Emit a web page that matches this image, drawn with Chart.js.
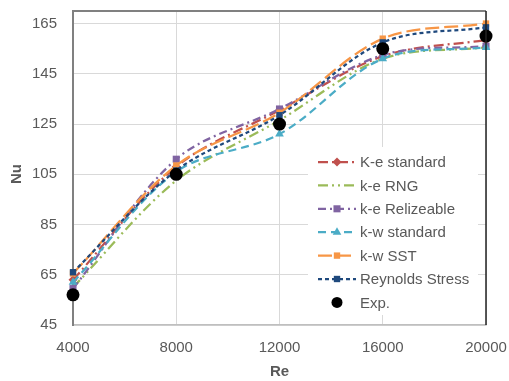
<!DOCTYPE html>
<html><head><meta charset="utf-8">
<script src="https://cdn.jsdelivr.net/npm/chart.js@4/dist/chart.umd.min.js"></script>
<style>html,body{margin:0;padding:0;background:#fff}canvas{display:block}</style>
</head><body>
<canvas id="c" width="509" height="381"></canvas>
<script>
const reValues = [4000, 8000, 12000, 16000, 20000];
const xTickLabels = [4000, 8000, 12000, 16000, 20000];
const yTickLabels = [45, 65, 85, 105, 125, 145, 165];
const seriesNames = ["K-e standard", "k-e RNG", "k-e Relizeable", "k-w standard", "k-w SST", "Reynolds Stress", "Exp."];
const keStandard = [63, 108, 130.5, 152, 158.5];
const keRNG = [60, 102.5, 126.5, 151, 155.5];
const keRelizeable = [59.5, 111, 131, 152.5, 156];
const kwStandard = [62, 106, 121, 151, 155.5];
const kwSST = [65.5, 108.5, 129.5, 159, 165];
const reynoldsStress = [66, 106.5, 128.5, 157.5, 163.5];
const expData = [57, 105, 125, 155, 160];

const FONT = "'Liberation Sans', Arial, sans-serif";
const pts = arr => arr.map((v, i) => ({x: reValues[i], y: v}));

const styles = [
  {color:'#C0504D', dash:[10,4,2,4], point:'rectRot', r:4.5},
  {color:'#9BBB59', dash:[10,4,2,4,2,4], point:false, r:0},
  {color:'#8064A2', dash:[8,4,2,4], point:'rect', r:5},
  {color:'#4BACC6', dash:[8,5], point:'triangle', r:5},
  {color:'#F79646', dash:[14,5], point:'rect', r:4.5},
  {color:'#1F497D', dash:[4,3], point:'rect', r:4.5}
];
const seriesData = [keStandard, keRNG, keRelizeable, kwStandard, kwSST, reynoldsStress];

const datasets = seriesData.map((d, i) => ({
  label: seriesNames[i], data: pts(d),
  borderColor: styles[i].color, backgroundColor: styles[i].color,
  borderWidth: 2.25, borderDash: styles[i].dash, tension: 0.33,
  pointStyle: styles[i].point, pointRadius: styles[i].r, pointBorderWidth: 0,
  fill: false, order: 10 - i, clip: 8
}));
datasets.push({
  label: seriesNames[6], data: pts(expData), showLine: false,
  borderColor: '#000', backgroundColor: '#000', pointStyle: 'circle',
  pointRadius: 6.5, pointBorderWidth: 0, order: 0, clip: 8
});

const framePlugin = {
  id: 'frame',
  afterDatasetsDraw(chart) {
    const {ctx, chartArea: a} = chart;
    ctx.save();
    ctx.strokeStyle = '#808080'; ctx.lineWidth = 2;
    ctx.beginPath(); ctx.moveTo(a.left - 1, a.top); ctx.lineTo(a.right, a.top); ctx.stroke();
    ctx.strokeStyle = '#222'; ctx.lineWidth = 1.5;
    ctx.beginPath(); ctx.moveTo(a.right, a.top); ctx.lineTo(a.right, a.bottom); ctx.stroke();
    // axis titles
    ctx.fillStyle = '#595959';
    ctx.font = "bold 15px " + FONT;
    ctx.textAlign = 'center'; ctx.textBaseline = 'middle';
    ctx.fillText('Re', (a.left + a.right) / 2, 372);
    ctx.translate(17, (a.top + a.bottom) / 2 + 6);
    ctx.rotate(-Math.PI / 2);
    ctx.fillText('Nu', 0, 0);
    ctx.restore();
    // legend
    ctx.save();
    const bx = 308, by = 147, bw = 170, bh = 168;
    ctx.fillStyle = '#fff'; ctx.fillRect(bx, by, bw, bh);
    const items = chart.data.datasets;
    items.forEach((ds, i) => {
      const y = 162 + i * 23.4;
      if (ds.showLine !== false) {
        ctx.strokeStyle = ds.borderColor; ctx.lineWidth = 2.25;
        ctx.setLineDash(ds.borderDash || []);
        ctx.beginPath(); ctx.moveTo(318, y); ctx.lineTo(356, y); ctx.stroke();
        ctx.setLineDash([]);
      }
      if (ds.pointStyle) {
        ctx.fillStyle = ds.backgroundColor; ctx.strokeStyle = ds.borderColor;
        Chart.helpers.drawPoint(ctx, {pointStyle: ds.pointStyle, radius: ds.showLine === false ? 5.5 : ds.pointRadius, rotation: 0, borderWidth: 0}, 337, y);
      }
      ctx.fillStyle = '#595959'; ctx.font = "15px " + FONT;
      ctx.textAlign = 'left'; ctx.textBaseline = 'middle';
      ctx.fillText(ds.label, 360, y + 1);
    });
    ctx.restore();
  }
};

function zeroPad(s) { s.paddingTop = 0; s.paddingBottom = 0; s.paddingLeft = 0; s.paddingRight = 0; }

new Chart(document.getElementById('c'), {
  type: 'line',
  data: {datasets},
  options: {
    responsive: false, animation: false, devicePixelRatio: 1,
    layout: {padding: {top: 11, right: 23, left: 0, bottom: 0}},
    plugins: {legend: {display: false}, tooltip: {enabled: false}},
    scales: {
      x: {
        type: 'linear', min: 4000, max: 20000,
        afterFit(s) { s.height = 56; zeroPad(s); },
        afterBuildTicks(s) { s.ticks = xTickLabels.map(v => ({value: v})); },
        grid: {color: '#d9d9d9', lineWidth: 1, drawTicks: false},
        border: {color: '#bfbfbf', width: 1.5},
        ticks: {color: '#595959', font: {size: 15, family: FONT}, padding: 14, maxRotation: 0,
                callback: v => String(v)}
      },
      y: {
        min: 45, max: 170,
        afterFit(s) { s.width = 73; zeroPad(s); },
        afterBuildTicks(s) { s.ticks = yTickLabels.map(v => ({value: v})); },
        grid: {color: '#d9d9d9', lineWidth: 1, drawTicks: false},
        border: {color: '#808080', width: 2},
        ticks: {color: '#595959', font: {size: 15, family: FONT}, padding: 16, callback: v => String(v)}
      }
    }
  },
  plugins: [framePlugin]
});
</script>
</body></html>
